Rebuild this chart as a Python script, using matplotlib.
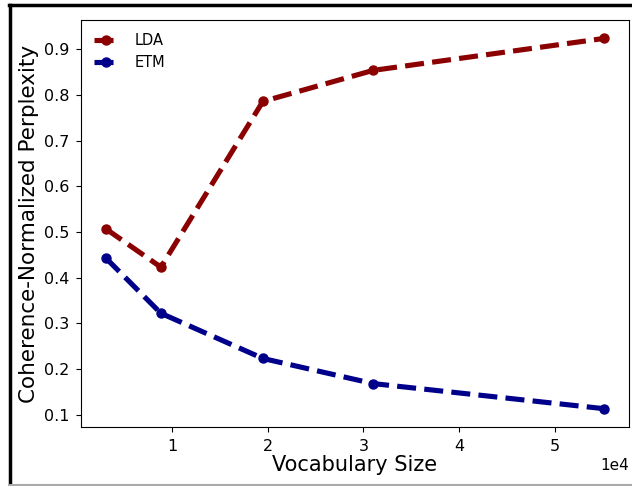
import matplotlib.pyplot as plt
from matplotlib.lines import Line2D

# vocabulary sizes and coherence-normalized perplexity per model
vocab_size = [3100, 8850, 19500, 31000, 55100]
lda = [0.507, 0.423, 0.786, 0.854, 0.924]
etm = [0.443, 0.322, 0.223, 0.168, 0.113]

fig = plt.figure(figsize=(6.32, 4.86), dpi=100)
ax = fig.add_axes([0.128, 0.121, 0.867, 0.838])

ax.plot(vocab_size, lda, color='darkred', linestyle='--', linewidth=3.7,
        marker='o', markersize=6.5, label='LDA')
ax.plot(vocab_size, etm, color='darkblue', linestyle='--', linewidth=3.7,
        marker='o', markersize=6.5, label='ETM')

ax.ticklabel_format(axis='x', style='sci', scilimits=(0, 0))
ax.set_yticks([0.1, 0.2, 0.3, 0.4, 0.5, 0.6, 0.7, 0.8, 0.9])
ax.tick_params(labelsize=11.5, pad=5)
ax.xaxis.get_offset_text().set_fontsize(11)
ax.set_xlabel('Vocabulary Size', fontsize=15, labelpad=1)
ax.set_ylabel('Coherence-Normalized Perplexity', fontsize=15.5, labelpad=3)
ax.legend(loc='upper left', frameon=False, fontsize=10.5, handlelength=1.6,
          handletextpad=1.2)

# thin page border: black top and left, grey bottom
fig.add_artist(Line2D([0.015, 1.0], [0.99, 0.99], color='black', linewidth=2.5,
                      transform=fig.transFigure))
fig.add_artist(Line2D([0.016, 0.016], [0.003, 0.99], color='black', linewidth=2.5,
                      transform=fig.transFigure))
fig.add_artist(Line2D([0.015, 1.0], [0.003, 0.003], color='#aaaaaa', linewidth=1.5,
                      transform=fig.transFigure))

fig.savefig('out.png', dpi=100)
